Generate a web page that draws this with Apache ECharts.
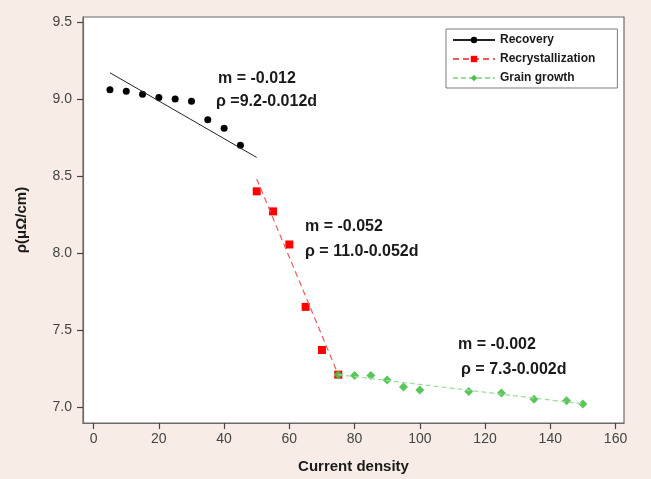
<!DOCTYPE html>
<html>
<head>
<meta charset="utf-8">
<script src="https://cdn.jsdelivr.net/npm/echarts@6/dist/echarts.min.js"></script>
<style>
  html, body { margin: 0; padding: 0; background: #f7ede6; }
  #chart { width: 651px; height: 479px; }
</style>
</head>
<body>
<div id="chart"></div>
<script>
// data
const recoveryX = [5, 10, 15, 20, 25, 30, 35, 40, 45]
const recoveryY = [9.06, 9.05, 9.03, 9.01, 9.0, 8.985, 8.865, 8.81, 8.70]
const recoveryFit = [[5, 9.17], [50, 8.62]]

const recrystX = [50, 55, 60, 65, 70, 75]
const recrystY = [8.40, 8.27, 8.055, 7.65, 7.37, 7.21]
const recrystFit = [[50, 8.48], [75, 7.21]]

const grainX = [75, 80, 85, 90, 95, 100, 115, 125, 135, 145, 150]
const grainY = [7.21, 7.205, 7.205, 7.175, 7.13, 7.11, 7.10, 7.09, 7.05, 7.04, 7.02]
const grainFit = [[75, 7.21], [150, 7.02]]

const xTicks = [0, 20, 40, 60, 80, 100, 120, 140, 160]
const yTicks = [7.0, 7.5, 8.0, 8.5, 9.0, 9.5]

const zip = (xs, ys) => xs.map((x, i) => [x, ys[i]])

const chart = echarts.init(document.getElementById('chart'))

const labelFont = { fontFamily: 'Arial, "Liberation Sans", sans-serif' }
const boldText = { ...labelFont, fontWeight: 'bold', fontSize: 16, fill: '#1a1a1a' }
const frameLine = { show: true, onZero: false, lineStyle: { color: '#6a6a6a', width: 1.2 } }
const tickStyle = { color: '#444', width: 1.2 }

chart.setOption({
  animation: false,
  backgroundColor: '#f7ede6',
  grid: {
    left: 83, top: 17, right: 27, bottom: 55,
    show: true,
    backgroundColor: '#ffffff',
    borderColor: '#6a6a6a',
    borderWidth: 1.2
  },
  legend: {
    data: ['Recovery', 'Recrystallization', 'Grain growth'],
    orient: 'vertical',
    left: 446, top: 29,
    itemWidth: 42, itemHeight: 8,
    itemGap: 7,
    padding: [5, 22, 4, 6],
    backgroundColor: '#ffffff',
    borderColor: '#7a7a7a',
    borderWidth: 1,
    textStyle: { ...labelFont, fontSize: 12, fontWeight: 'bold', color: '#1a1a1a' }
  },
  xAxis: {
    type: 'value',
    min: -3.26, max: 162.6,
    name: 'Current density',
    nameLocation: 'middle',
    nameGap: 36,
    nameTextStyle: { ...labelFont, fontSize: 15, fontWeight: 'bold', color: '#1a1a1a' },
    axisLine: frameLine,
    splitLine: { show: false },
    axisTick: { show: true, inside: false, customValues: xTicks, length: 6, lineStyle: tickStyle },
    axisLabel: { customValues: xTicks, margin: 9, ...labelFont, fontSize: 14, color: '#444' }
  },
  yAxis: {
    type: 'value',
    min: 6.896, max: 9.532,
    name: 'ρ(μΩ/cm)',
    nameLocation: 'middle',
    nameGap: 54,
    nameTextStyle: { ...labelFont, fontSize: 15, fontWeight: 'bold', color: '#1a1a1a' },
    axisLine: frameLine,
    splitLine: { show: false },
    axisTick: { show: true, inside: false, customValues: yTicks, length: 6, lineStyle: tickStyle },
    axisLabel: {
      customValues: yTicks, margin: 11, ...labelFont, fontSize: 14, color: '#444',
      formatter: v => v.toFixed(1)
    }
  },
  series: [
    {
      name: 'Recovery', type: 'line', data: recoveryFit,
      symbol: 'circle', symbolSize: 7, showSymbol: false,
      itemStyle: { color: '#000' },
      lineStyle: { color: '#222', width: 1 }
    },
    {
      name: 'Recovery', type: 'scatter', data: zip(recoveryX, recoveryY),
      symbol: 'circle', symbolSize: 7,
      itemStyle: { color: '#000', opacity: 1 }
    },
    {
      name: 'Recrystallization', type: 'line', data: recrystFit,
      symbol: 'rect', symbolSize: 8, showSymbol: false,
      itemStyle: { color: '#ff0000' },
      lineStyle: { color: '#f05a5a', width: 1.2, type: [6, 4] }
    },
    {
      name: 'Recrystallization', type: 'scatter', data: zip(recrystX, recrystY),
      symbol: 'rect', symbolSize: 8,
      itemStyle: { color: '#ff0000', opacity: 1 }
    },
    {
      name: 'Grain growth', type: 'line', data: grainFit,
      symbol: 'diamond', symbolSize: 9, showSymbol: false,
      itemStyle: { color: '#4cc14c' },
      lineStyle: { color: '#9edb9e', width: 1.2, type: [5, 3] }
    },
    {
      name: 'Grain growth', type: 'scatter', data: zip(grainX, grainY),
      symbol: 'diamond', symbolSize: 9,
      itemStyle: { color: '#4cc14c', opacity: 0.92 }
    }
  ],
  graphic: [
    { type: 'text', left: 218, top: 71, style: { text: 'm = -0.012', ...boldText } },
    { type: 'text', left: 216, top: 94, style: { text: 'ρ =9.2-0.012d', ...boldText } },
    { type: 'text', left: 305, top: 219, style: { text: 'm = -0.052', ...boldText } },
    { type: 'text', left: 305, top: 244, style: { text: 'ρ = 11.0-0.052d', ...boldText } },
    { type: 'text', left: 458, top: 337, style: { text: 'm = -0.002', ...boldText } },
    { type: 'text', left: 461, top: 362, style: { text: 'ρ = 7.3-0.002d', ...boldText } }
  ]
})
</script>
</body>
</html>
